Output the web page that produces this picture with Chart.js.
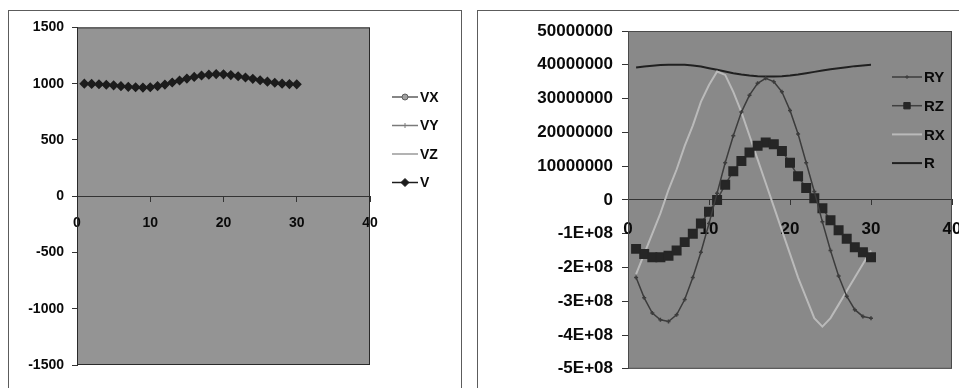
<!DOCTYPE html>
<html>
<head>
<meta charset="utf-8">
<script src="https://cdn.jsdelivr.net/npm/chart.js@4.4.1/dist/chart.umd.min.js"></script>
<style>
  html, body { margin: 0; padding: 0; background: #fff; overflow: hidden; width: 959px; height: 388px; }
  .frame { position: absolute; border: 1px solid #5c5c5c; box-sizing: border-box; }
  #velFrame { left: 8px; top: 10px; width: 454px; height: 400px; }
  #posFrame { left: 477px; top: 10px; width: 520px; height: 400px; }
  canvas { position: absolute; }
</style>
</head>
<body>
<div class="frame" id="velFrame"></div>
<div class="frame" id="posFrame"></div>
<canvas id="velChart" style="left:9px;top:11px" width="452" height="377"></canvas>
<canvas id="posChart" style="left:478px;top:11px" width="500" height="377"></canvas>
<script>
// ---- data ----------------------------------------------------------
const times = [1, 2, 3, 4, 5, 6, 7, 8, 9, 10, 11, 12, 13, 14, 15,
               16, 17, 18, 19, 20, 21, 22, 23, 24, 25, 26, 27, 28, 29, 30];

// velocity components and magnitude
const vxValues = [];
const vyValues = [];
const vzValues = [];
const vValues = [1000, 998, 995, 990, 985, 978, 972, 968, 965, 968,
                 978, 992, 1010, 1028, 1045, 1060, 1072, 1080, 1085, 1083,
                 1076, 1066, 1055, 1043, 1030, 1018, 1008, 1000, 996, 994];

// position components and magnitude
const ryValues = [-2.3e8, -2.9e8, -3.35e8, -3.55e8, -3.6e8, -3.4e8, -2.95e8, -2.3e8, -1.55e8, -0.7e8,
                  0.2e8, 1.1e8, 1.9e8, 2.6e8, 3.1e8, 3.45e8, 3.6e8, 3.5e8, 3.2e8, 2.65e8,
                  1.95e8, 1.1e8, 0.25e8, -0.65e8, -1.5e8, -2.25e8, -2.85e8, -3.25e8, -3.45e8, -3.5e8];
const rzValues = [-1.45e8, -1.6e8, -1.7e8, -1.7e8, -1.65e8, -1.5e8, -1.25e8, -1.0e8, -0.7e8, -0.35e8,
                  0.0, 0.45e8, 0.85e8, 1.15e8, 1.4e8, 1.6e8, 1.7e8, 1.65e8, 1.45e8, 1.1e8,
                  0.7e8, 0.35e8, 0.05e8, -0.25e8, -0.6e8, -0.9e8, -1.15e8, -1.4e8, -1.55e8, -1.7e8];
const rxValues = [-2.2e8, -1.6e8, -1.0e8, -0.4e8, 0.3e8, 0.9e8, 1.6e8, 2.2e8, 2.9e8, 3.4e8,
                  3.8e8, 3.7e8, 3.2e8, 2.6e8, 1.9e8, 1.2e8, 0.5e8, -0.2e8, -0.9e8, -1.6e8,
                  -2.3e8, -2.9e8, -3.5e8, -3.75e8, -3.5e8, -3.1e8, -2.7e8, -2.3e8, -1.9e8, -1.5e8];
const rValues = [3.92e8, 3.95e8, 3.97e8, 3.99e8, 4.0e8, 4.0e8, 4.0e8, 3.98e8, 3.95e8, 3.9e8,
                 3.85e8, 3.8e8, 3.75e8, 3.71e8, 3.68e8, 3.66e8, 3.65e8, 3.65e8, 3.66e8, 3.68e8,
                 3.71e8, 3.75e8, 3.79e8, 3.83e8, 3.87e8, 3.9e8, 3.93e8, 3.96e8, 3.98e8, 4.0e8];

const xTickValues = [0, 10, 20, 30, 40];
const velTickLabels = ['-1500', '-1000', '-500', '0', '500', '1000', '1500'];
const posTickLabels = ['-5E+08', '-4E+08', '-3E+08', '-2E+08', '-1E+08', '0',
                       '10000000', '20000000', '30000000', '40000000', '50000000'];

// ---- helpers -------------------------------------------------------
const FONT = "'Liberation Sans', Arial, sans-serif";
Chart.defaults.font.family = FONT;
Chart.defaults.color = '#111';

const toPoints = (ys) => ys.map((y, i) => ({ x: times[i], y }));

function drawMarker(ctx, style, r, x, y, fill, stroke) {
  if (!style || !r) return;
  ctx.save();
  ctx.fillStyle = fill;
  ctx.strokeStyle = stroke;
  ctx.lineWidth = 1;
  ctx.beginPath();
  if (style === 'circle') {
    ctx.arc(x, y, r, 0, Math.PI * 2);
    ctx.fill(); ctx.stroke();
  } else if (style === 'rect') {
    const s = r * Math.SQRT1_2;
    ctx.rect(x - s, y - s, 2 * s, 2 * s);
    ctx.fill(); ctx.stroke();
  } else if (style === 'rectRot') {
    const s = r;
    ctx.moveTo(x, y - s); ctx.lineTo(x + s, y); ctx.lineTo(x, y + s); ctx.lineTo(x - s, y);
    ctx.closePath(); ctx.fill(); ctx.stroke();
  } else if (style === 'cross') {
    ctx.moveTo(x - r, y); ctx.lineTo(x + r, y);
    ctx.moveTo(x, y - r); ctx.lineTo(x, y + r);
    ctx.stroke();
  }
  ctx.restore();
}

// plot-area fill, border and a hand-placed legend
const plotDecor = {
  id: 'plotDecor',
  beforeDraw(chart, args, o) {
    const { ctx, chartArea: a } = chart;
    ctx.save();
    ctx.fillStyle = o.fill;
    ctx.fillRect(a.left, a.top, a.width, a.height);
    ctx.restore();
  },
  afterDraw(chart, args, o) {
    const { ctx, chartArea: a } = chart;
    ctx.save();
    ctx.strokeStyle = o.border;
    ctx.lineWidth = 1;
    ctx.strokeRect(a.left + 0.5, a.top + 0.5, a.width - 1, a.height - 1);
    ctx.restore();

    const L = o.legend;
    chart.data.datasets.forEach((ds, i) => {
      const y = L.y + i * L.gap;
      ctx.save();
      ctx.strokeStyle = ds.borderColor;
      ctx.lineWidth = ds.borderWidth;
      ctx.beginPath();
      ctx.moveTo(L.x, y);
      ctx.lineTo(L.x + L.len, y);
      ctx.stroke();
      ctx.restore();
      drawMarker(ctx, ds.pointStyle, ds.pointRadius ? Math.min(ds.pointRadius, 4.5) : 0,
                 L.x + L.len / 2, y, ds.pointBackgroundColor || ds.backgroundColor, ds.pointBorderColor || ds.borderColor);
      ctx.save();
      ctx.fillStyle = '#0a0a0a';
      ctx.font = 'bold ' + L.font + 'px ' + FONT;
      ctx.textBaseline = 'middle';
      ctx.textAlign = 'left';
      ctx.fillText(ds.label, L.x + L.len + 2, y + 1);
      ctx.restore();
    });
  }
};

function xAxis(fontSize, pad) {
  return {
    type: 'linear',
    position: { y: 0 },
    min: 0, max: 40,
    afterBuildTicks: (s) => { s.ticks = xTickValues.map(v => ({ value: v })); },
    ticks: { font: { size: fontSize, weight: 'bold' }, padding: pad, maxRotation: 0, color: '#0a0a0a' },
    grid: { drawOnChartArea: false, tickLength: 5, color: '#333' },
    border: { color: '#333', width: 1 }
  };
}

// ---- velocity chart ------------------------------------------------
new Chart(document.getElementById('velChart'), {
  type: 'scatter',
  data: {
    datasets: [
      { label: 'VX', data: toPoints(vxValues), showLine: true, borderColor: '#5e5e5e', borderWidth: 1.5,
        pointStyle: 'circle', pointRadius: 3, backgroundColor: '#a0a0a0' },
      { label: 'VY', data: toPoints(vyValues), showLine: true, borderColor: '#7a7a7a', borderWidth: 1.5,
        pointStyle: 'cross', pointRadius: 2.5, backgroundColor: '#7a7a7a' },
      { label: 'VZ', data: toPoints(vzValues), showLine: true, borderColor: '#9a9a9a', borderWidth: 1.5,
        pointStyle: false, pointRadius: 0, backgroundColor: '#9a9a9a' },
      { label: 'V', data: toPoints(vValues), showLine: true, borderColor: '#1c1c1c', borderWidth: 1.5,
        pointStyle: 'rectRot', pointRadius: 4, backgroundColor: '#1c1c1c', pointBorderColor: '#1c1c1c' }
    ]
  },
  options: {
    responsive: false,
    animation: false,
    layout: { padding: { top: 12, bottom: 23, right: 91, left: 0 } },
    scales: {
      x: xAxis(14, 14),
      y: {
        type: 'linear', position: 'left',
        min: -1500, max: 1500,
        ticks: { stepSize: 500, font: { size: 14, weight: 'bold' }, padding: 8, color: '#0a0a0a',
                 callback: (v, i) => velTickLabels[i] },
        grid: { drawOnChartArea: false, tickLength: 5, color: '#333' },
        border: { color: '#333', width: 1 },
        afterFit: (s) => { s.width = 68; }
      }
    },
    plugins: {
      legend: { display: false },
      tooltip: { enabled: false },
      plotDecor: { fill: '#949494', border: '#2a2a2a',
                   legend: { x: 383, y: 86, gap: 28.5, len: 26, font: 14 } }
    }
  },
  plugins: [plotDecor]
});

// ---- position chart ------------------------------------------------
new Chart(document.getElementById('posChart'), {
  type: 'scatter',
  data: {
    datasets: [
      { label: 'RY', data: toPoints(ryValues), showLine: true, borderColor: '#3c3c3c', borderWidth: 1.5,
        pointStyle: 'cross', pointRadius: 2, backgroundColor: '#3c3c3c' },
      { label: 'RZ', data: toPoints(rzValues), showLine: true, borderColor: '#404040', borderWidth: 1.5,
        pointStyle: 'rect', pointRadius: 6, backgroundColor: '#262626', pointBorderColor: '#262626' },
      { label: 'RX', data: toPoints(rxValues), showLine: true, borderColor: '#bababa', borderWidth: 2,
        pointStyle: false, pointRadius: 0, backgroundColor: '#bababa' },
      { label: 'R', data: toPoints(rValues), showLine: true, borderColor: '#202020', borderWidth: 2,
        pointStyle: false, pointRadius: 0, backgroundColor: '#202020' }
    ]
  },
  options: {
    responsive: false,
    animation: false,
    layout: { padding: { top: 20, bottom: 15, right: 26, left: 0 } },
    scales: {
      x: xAxis(17, 14),
      y: {
        type: 'linear', position: 'left',
        min: -5e8, max: 5e8,
        ticks: {
          stepSize: 1e8, font: { size: 17, weight: 'bold' }, padding: 9, color: '#0a0a0a',
          callback: (v, i) => posTickLabels[i]
        },
        grid: { drawOnChartArea: false, tickLength: 6, color: '#333' },
        border: { color: '#333', width: 1 },
        afterFit: (s) => { s.width = 150; }
      }
    },
    plugins: {
      legend: { display: false },
      tooltip: { enabled: false },
      plotDecor: { fill: '#898989', border: '#4a4a4a',
                   legend: { x: 414, y: 66, gap: 28.7, len: 30, font: 15 } }
    }
  },
  plugins: [plotDecor]
});
</script>
</body>
</html>
